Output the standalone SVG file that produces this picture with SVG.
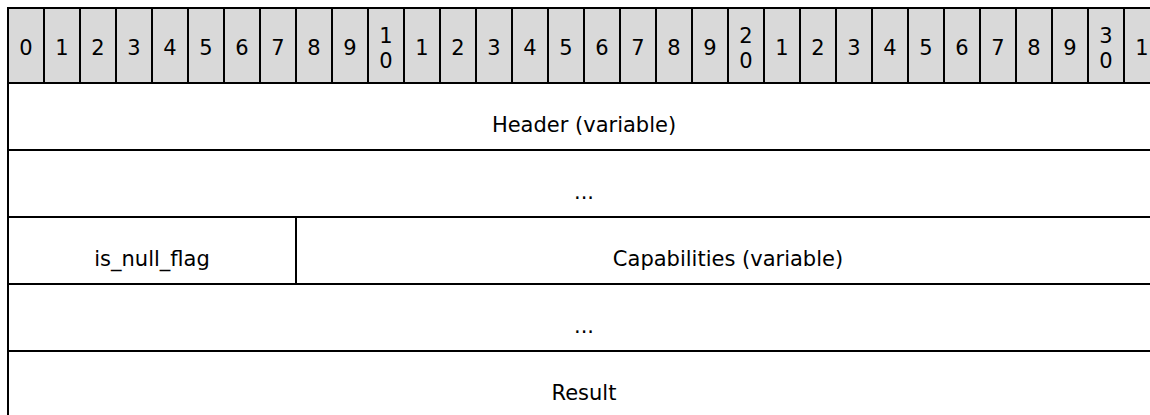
<svg xmlns="http://www.w3.org/2000/svg" width="1150" height="415" viewBox="0 0 1150 415">
<style>
.hd{fill:#D9D9D9;stroke:#000;stroke-width:2}
.fd{fill:#FFFFFF;stroke:#000;stroke-width:2}
text{font-family:"DejaVu Sans","Liberation Sans",sans-serif;font-size:21px;fill:#000;text-anchor:middle}
</style>
<rect width="1150" height="415" fill="#FFFFFF"/>
<g id="bits">
<g id="b0"><rect class="hd" x="8" y="8" width="36" height="75"/><text x="26" y="55">0</text></g>
<g id="b1"><rect class="hd" x="44" y="8" width="36" height="75"/><text x="62" y="55">1</text></g>
<g id="b2"><rect class="hd" x="80" y="8" width="36" height="75"/><text x="98" y="55">2</text></g>
<g id="b3"><rect class="hd" x="116" y="8" width="36" height="75"/><text x="134" y="55">3</text></g>
<g id="b4"><rect class="hd" x="152" y="8" width="36" height="75"/><text x="170" y="55">4</text></g>
<g id="b5"><rect class="hd" x="188" y="8" width="36" height="75"/><text x="206" y="55">5</text></g>
<g id="b6"><rect class="hd" x="224" y="8" width="36" height="75"/><text x="242" y="55">6</text></g>
<g id="b7"><rect class="hd" x="260" y="8" width="36" height="75"/><text x="278" y="55">7</text></g>
<g id="b8"><rect class="hd" x="296" y="8" width="36" height="75"/><text x="314" y="55">8</text></g>
<g id="b9"><rect class="hd" x="332" y="8" width="36" height="75"/><text x="350" y="55">9</text></g>
<g id="b10"><rect class="hd" x="368" y="8" width="36" height="75"/><text x="386" y="43">1</text><text x="386" y="68">0</text></g>
<g id="b11"><rect class="hd" x="404" y="8" width="36" height="75"/><text x="422" y="55">1</text></g>
<g id="b12"><rect class="hd" x="440" y="8" width="36" height="75"/><text x="458" y="55">2</text></g>
<g id="b13"><rect class="hd" x="476" y="8" width="36" height="75"/><text x="494" y="55">3</text></g>
<g id="b14"><rect class="hd" x="512" y="8" width="36" height="75"/><text x="530" y="55">4</text></g>
<g id="b15"><rect class="hd" x="548" y="8" width="36" height="75"/><text x="566" y="55">5</text></g>
<g id="b16"><rect class="hd" x="584" y="8" width="36" height="75"/><text x="602" y="55">6</text></g>
<g id="b17"><rect class="hd" x="620" y="8" width="36" height="75"/><text x="638" y="55">7</text></g>
<g id="b18"><rect class="hd" x="656" y="8" width="36" height="75"/><text x="674" y="55">8</text></g>
<g id="b19"><rect class="hd" x="692" y="8" width="36" height="75"/><text x="710" y="55">9</text></g>
<g id="b20"><rect class="hd" x="728" y="8" width="36" height="75"/><text x="746" y="43">2</text><text x="746" y="68">0</text></g>
<g id="b21"><rect class="hd" x="764" y="8" width="36" height="75"/><text x="782" y="55">1</text></g>
<g id="b22"><rect class="hd" x="800" y="8" width="36" height="75"/><text x="818" y="55">2</text></g>
<g id="b23"><rect class="hd" x="836" y="8" width="36" height="75"/><text x="854" y="55">3</text></g>
<g id="b24"><rect class="hd" x="872" y="8" width="36" height="75"/><text x="890" y="55">4</text></g>
<g id="b25"><rect class="hd" x="908" y="8" width="36" height="75"/><text x="926" y="55">5</text></g>
<g id="b26"><rect class="hd" x="944" y="8" width="36" height="75"/><text x="962" y="55">6</text></g>
<g id="b27"><rect class="hd" x="980" y="8" width="36" height="75"/><text x="998" y="55">7</text></g>
<g id="b28"><rect class="hd" x="1016" y="8" width="36" height="75"/><text x="1034" y="55">8</text></g>
<g id="b29"><rect class="hd" x="1052" y="8" width="36" height="75"/><text x="1070" y="55">9</text></g>
<g id="b30"><rect class="hd" x="1088" y="8" width="36" height="75"/><text x="1106" y="43">3</text><text x="1106" y="68">0</text></g>
<g id="b31"><rect class="hd" x="1124" y="8" width="36" height="75"/><text x="1142" y="55">1</text></g>
</g>
<g id="header"><rect class="fd" x="8" y="83" width="1152" height="67"/><text x="584" y="132">Header (variable)</text></g>
<g id="cont1"><rect class="fd" x="8" y="150" width="1152" height="67"/><text x="584" y="199">...</text></g>
<g id="is_null_flag"><rect class="fd" x="8" y="217" width="288" height="67"/><text x="152" y="266">is_null_flag</text></g>
<g id="capabilities"><rect class="fd" x="296" y="217" width="864" height="67"/><text x="728" y="266">Capabilities (variable)</text></g>
<g id="cont2"><rect class="fd" x="8" y="284" width="1152" height="67"/><text x="584" y="333">...</text></g>
<g id="result"><rect class="fd" x="8" y="351" width="1152" height="67"/><text x="584" y="400">Result</text></g>
<g id="connectors"/>
</svg>
